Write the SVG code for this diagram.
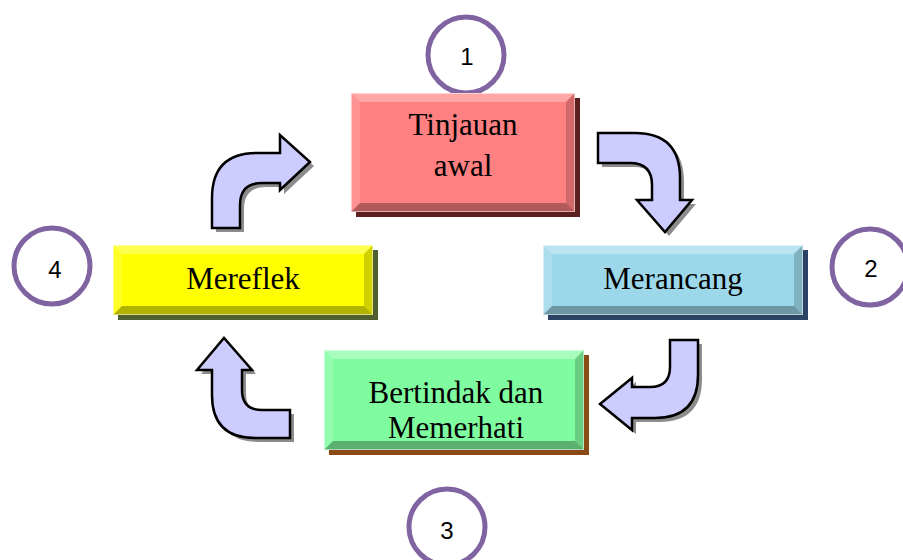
<svg xmlns="http://www.w3.org/2000/svg" width="903" height="560" viewBox="0 0 903 560">
<style>
.circ{fill:#fff;stroke:#8064a2;stroke-width:5}
.num{font-family:"Liberation Sans",Arial,sans-serif;font-size:24px;fill:#000;text-anchor:middle}
.lbl{font-family:"Liberation Serif","Times New Roman",serif;font-size:31px;fill:#000;text-anchor:middle}
.hi{fill:#fff;opacity:.3}
.hi2{fill:#fff;opacity:.15}
.lo{fill:#000;opacity:.18}
.lo2{fill:#000;opacity:.3}
.edge{fill:none;stroke:#fff;stroke-opacity:.5;stroke-width:1}
.arr{fill:#ccccff;stroke:#000;stroke-width:2.5;stroke-linejoin:miter}
.ash{fill:#8c8c8c}
</style>
<g id="circle1"><circle class="circ" cx="466" cy="55" r="38"/><text class="num" x="467" y="65">1</text></g>
<g id="circle2"><circle class="circ" cx="870" cy="267" r="38"/><text class="num" x="871" y="277">2</text></g>
<g id="circle3"><circle class="circ" cx="447" cy="527" r="38"/><text class="num" x="447" y="539">3</text></g>
<g id="circle4"><circle class="circ" cx="52" cy="266" r="38"/><text class="num" x="55" y="278">4</text></g>

<g id="node1">
<rect x="356" y="98" width="224" height="119" fill="#5c1f1f"/>
<rect x="351" y="93" width="224" height="119" fill="#ff8080"/>
<path class="hi" d="M351,93 H575 L566,102 H360 Z"/>
<path class="hi2" d="M351,93 L360,102 V203 L351,212 Z"/>
<path class="lo" d="M575,93 V212 L566,203 V102 Z"/>
<path class="lo2" d="M351,212 H575 L566,203 H360 Z"/>
<rect class="edge" x="351.5" y="93.5" width="223" height="118"/>
<text class="lbl" x="463" y="135">Tinjauan</text>
<text class="lbl" x="463" y="176">awal</text>
</g>

<g id="node2">
<rect x="548" y="250" width="260" height="70" fill="#2b4466"/>
<rect x="543" y="245" width="260" height="70" fill="#9dd8ea"/>
<path class="hi" d="M543,245 H803 L794,254 H552 Z"/>
<path class="hi2" d="M543,245 L552,254 V306 L543,315 Z"/>
<path class="lo" d="M803,245 V315 L794,306 V254 Z"/>
<path class="lo2" d="M543,315 H803 L794,306 H552 Z"/>
<rect class="edge" x="543.5" y="245.5" width="259" height="69"/>
<text class="lbl" x="673" y="289">Merancang</text>
</g>

<g id="node3">
<rect x="329" y="355" width="260" height="100" fill="#8b4a14"/>
<rect x="324" y="350" width="260" height="100" fill="#80fca0"/>
<path class="hi" d="M324,350 H584 L575,359 H333 Z"/>
<path class="hi2" d="M324,350 L333,359 V441 L324,450 Z"/>
<path class="lo" d="M584,350 V450 L575,441 V359 Z"/>
<path class="lo2" d="M324,450 H584 L575,441 H333 Z"/>
<rect class="edge" x="324.5" y="350.5" width="259" height="99"/>
<text class="lbl" x="456" y="403">Bertindak dan</text>
<text class="lbl" x="456" y="438">Memerhati</text>
</g>

<g id="node4">
<rect x="118" y="250" width="260" height="70" fill="#4f5f2f"/>
<rect x="113" y="245" width="260" height="70" fill="#ffff00"/>
<path class="hi" d="M113,245 H373 L364,254 H122 Z"/>
<path class="hi2" d="M113,245 L122,254 V306 L113,315 Z"/>
<path class="lo" d="M373,245 V315 L364,306 V254 Z"/>
<path class="lo2" d="M113,315 H373 L364,306 H122 Z"/>
<rect class="edge" x="113.5" y="245.5" width="259" height="69"/>
<text class="lbl" x="243" y="289">Mereflek</text>
</g>

<g id="connectors">
<g id="arrow1">
<path class="ash" transform="translate(4,4)" d="M598,133 H635 Q680,133 680,178 V200 H692 L665,232 L637,200 H652 V185 Q652,163 630,163 H598 Z"/>
<path class="arr" d="M598,133 H635 Q680,133 680,178 V200 H692 L665,232 L637,200 H652 V185 Q652,163 630,163 H598 Z"/>
</g>
<g id="arrow2">
<path class="ash" transform="translate(4,4)" d="M698,340 V375 Q698,418 655,418 H632 V430 L600,404 L632,378 V387 H650 Q670,387 670,367 V340 Z"/>
<path class="arr" d="M698,340 V375 Q698,418 655,418 H632 V430 L600,404 L632,378 V387 H650 Q670,387 670,367 V340 Z"/>
</g>
<g id="arrow3">
<path class="ash" transform="translate(4,4)" d="M290,438 H255 Q212,438 212,395 V370 H197 L224,338 L252,370 H242 V390 Q242,410 262,410 H290 Z"/>
<path class="arr" d="M290,438 H255 Q212,438 212,395 V370 H197 L224,338 L252,370 H242 V390 Q242,410 262,410 H290 Z"/>
</g>
<g id="arrow4">
<path class="ash" transform="translate(4,4)" d="M212,228 V198 Q212,153 257,153 H280 V135 L310,162 L280,190 V183 H262 Q240,183 240,205 V228 Z"/>
<path class="arr" d="M212,228 V198 Q212,153 257,153 H280 V135 L310,162 L280,190 V183 H262 Q240,183 240,205 V228 Z"/>
</g>
</g>
</svg>
